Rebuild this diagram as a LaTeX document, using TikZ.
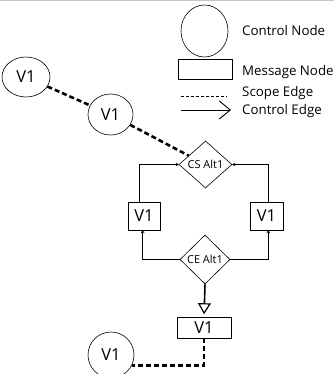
\documentclass[tikz,border=0pt]{standalone}
\usepackage{fontspec}
\setmainfont{Open Sans}
\usetikzlibrary{shapes.geometric,arrows.meta}

\tikzset{
  ctrlnode/.style={draw, ellipse, line width=0.6pt, inner sep=0pt, font=\fontsize{16.5}{16.5}\selectfont},
  msgnode/.style={draw, rectangle, line width=0.6pt, inner sep=0pt, font=\fontsize{16.5}{16.5}\selectfont},
  altnode/.style={draw, diamond, line width=0.6pt, inner sep=0pt, font=\fontsize{11}{11}\selectfont},
  legendtext/.style={anchor=west, inner sep=0pt, font=\fontsize{13.3}{13.3}\selectfont},
  scopeedge/.style={line width=2.6pt, dash pattern=on 5pt off 3pt},
  ctrledge/.style={line width=0.6pt, -{To[length=3pt,width=3.5pt]}},
}

\begin{document}
\begin{tikzpicture}[x=1pt,y=-1pt]
  \useasboundingbox (0,0) rectangle (334,374);
  \clip (0,0) rectangle (334,374);
  \draw[gray!45, line width=1pt] (0,1) -- (334,1);

  % legend
  \node[ctrlnode, minimum width=47pt, minimum height=52pt] (legC) at (204.5,31) {};
  \node[legendtext] (legCt) at (242,31) {Control Node};
  \node[msgnode, minimum width=54pt, minimum height=20pt] (legM) at (205,69) {};
  \node[legendtext] (legMt) at (242,72) {Message Node};
  \coordinate (scA) at (181,96);
  \coordinate (scB) at (227,96);
  \draw[line width=0.8pt, dash pattern=on 3pt off 2pt] (scA) -- (scB);
  \node[legendtext] (legSt) at (242,93) {Scope Edge};
  \coordinate (ceA) at (181,110);
  \coordinate (ceB) at (231,110);
  \draw[line width=0.8pt, -{Straight Barb[length=11pt,width=18pt,line width=0.9pt]}] (ceA) -- (ceB);
  \node[legendtext] (legEt) at (242,111) {Control Edge};

  % control nodes and message nodes
  \node[ctrlnode, minimum width=48pt, minimum height=40pt] (v1a) at (26,77) {V1};
  \node[ctrlnode, minimum width=45pt, minimum height=41pt] (v1b) at (110.5,114.5) {V1};
  \node[altnode, minimum width=53pt, minimum height=47pt] (cs) at (205.5,164.5) {CS Alt1};
  \node[msgnode, minimum width=32pt, minimum height=28pt] (bl) at (144,216) {V1};
  \node[msgnode, minimum width=33pt, minimum height=28pt] (br) at (266.5,216) {V1};
  \node[altnode, minimum width=50pt, minimum height=49pt] (ce) at (205,259.5) {CE Alt1};
  \node[msgnode, minimum width=54pt, minimum height=21pt] (bb) at (204,327.5) {V1};
  \node[ctrlnode, minimum width=46pt, minimum height=46pt] (v1c) at (111,355) {V1};

  % scope edges
  \draw[scopeedge] (v1a) -- (v1b);
  \draw[scopeedge] (v1b) -- (cs);
  \draw[scopeedge] (bb.south) |- (v1c.-27);

  % control edges
  \draw[ctrledge] ([xshift=-5pt]bl.north) |- (cs.west);
  \draw[ctrledge] ([xshift=1.8pt]br.north) |- (cs.east);
  \draw[ctrledge] (ce.west) -| ([xshift=-1.3pt]bl.south);
  \draw[ctrledge] (ce.east) -| ([xshift=1.8pt]br.south);
  \draw[line width=1.6pt, shorten >=2.5pt, -{Triangle[open,length=11pt,width=13pt,line width=1.2pt]}] (ce.south) -- (bb.north);
\end{tikzpicture}
\end{document}
